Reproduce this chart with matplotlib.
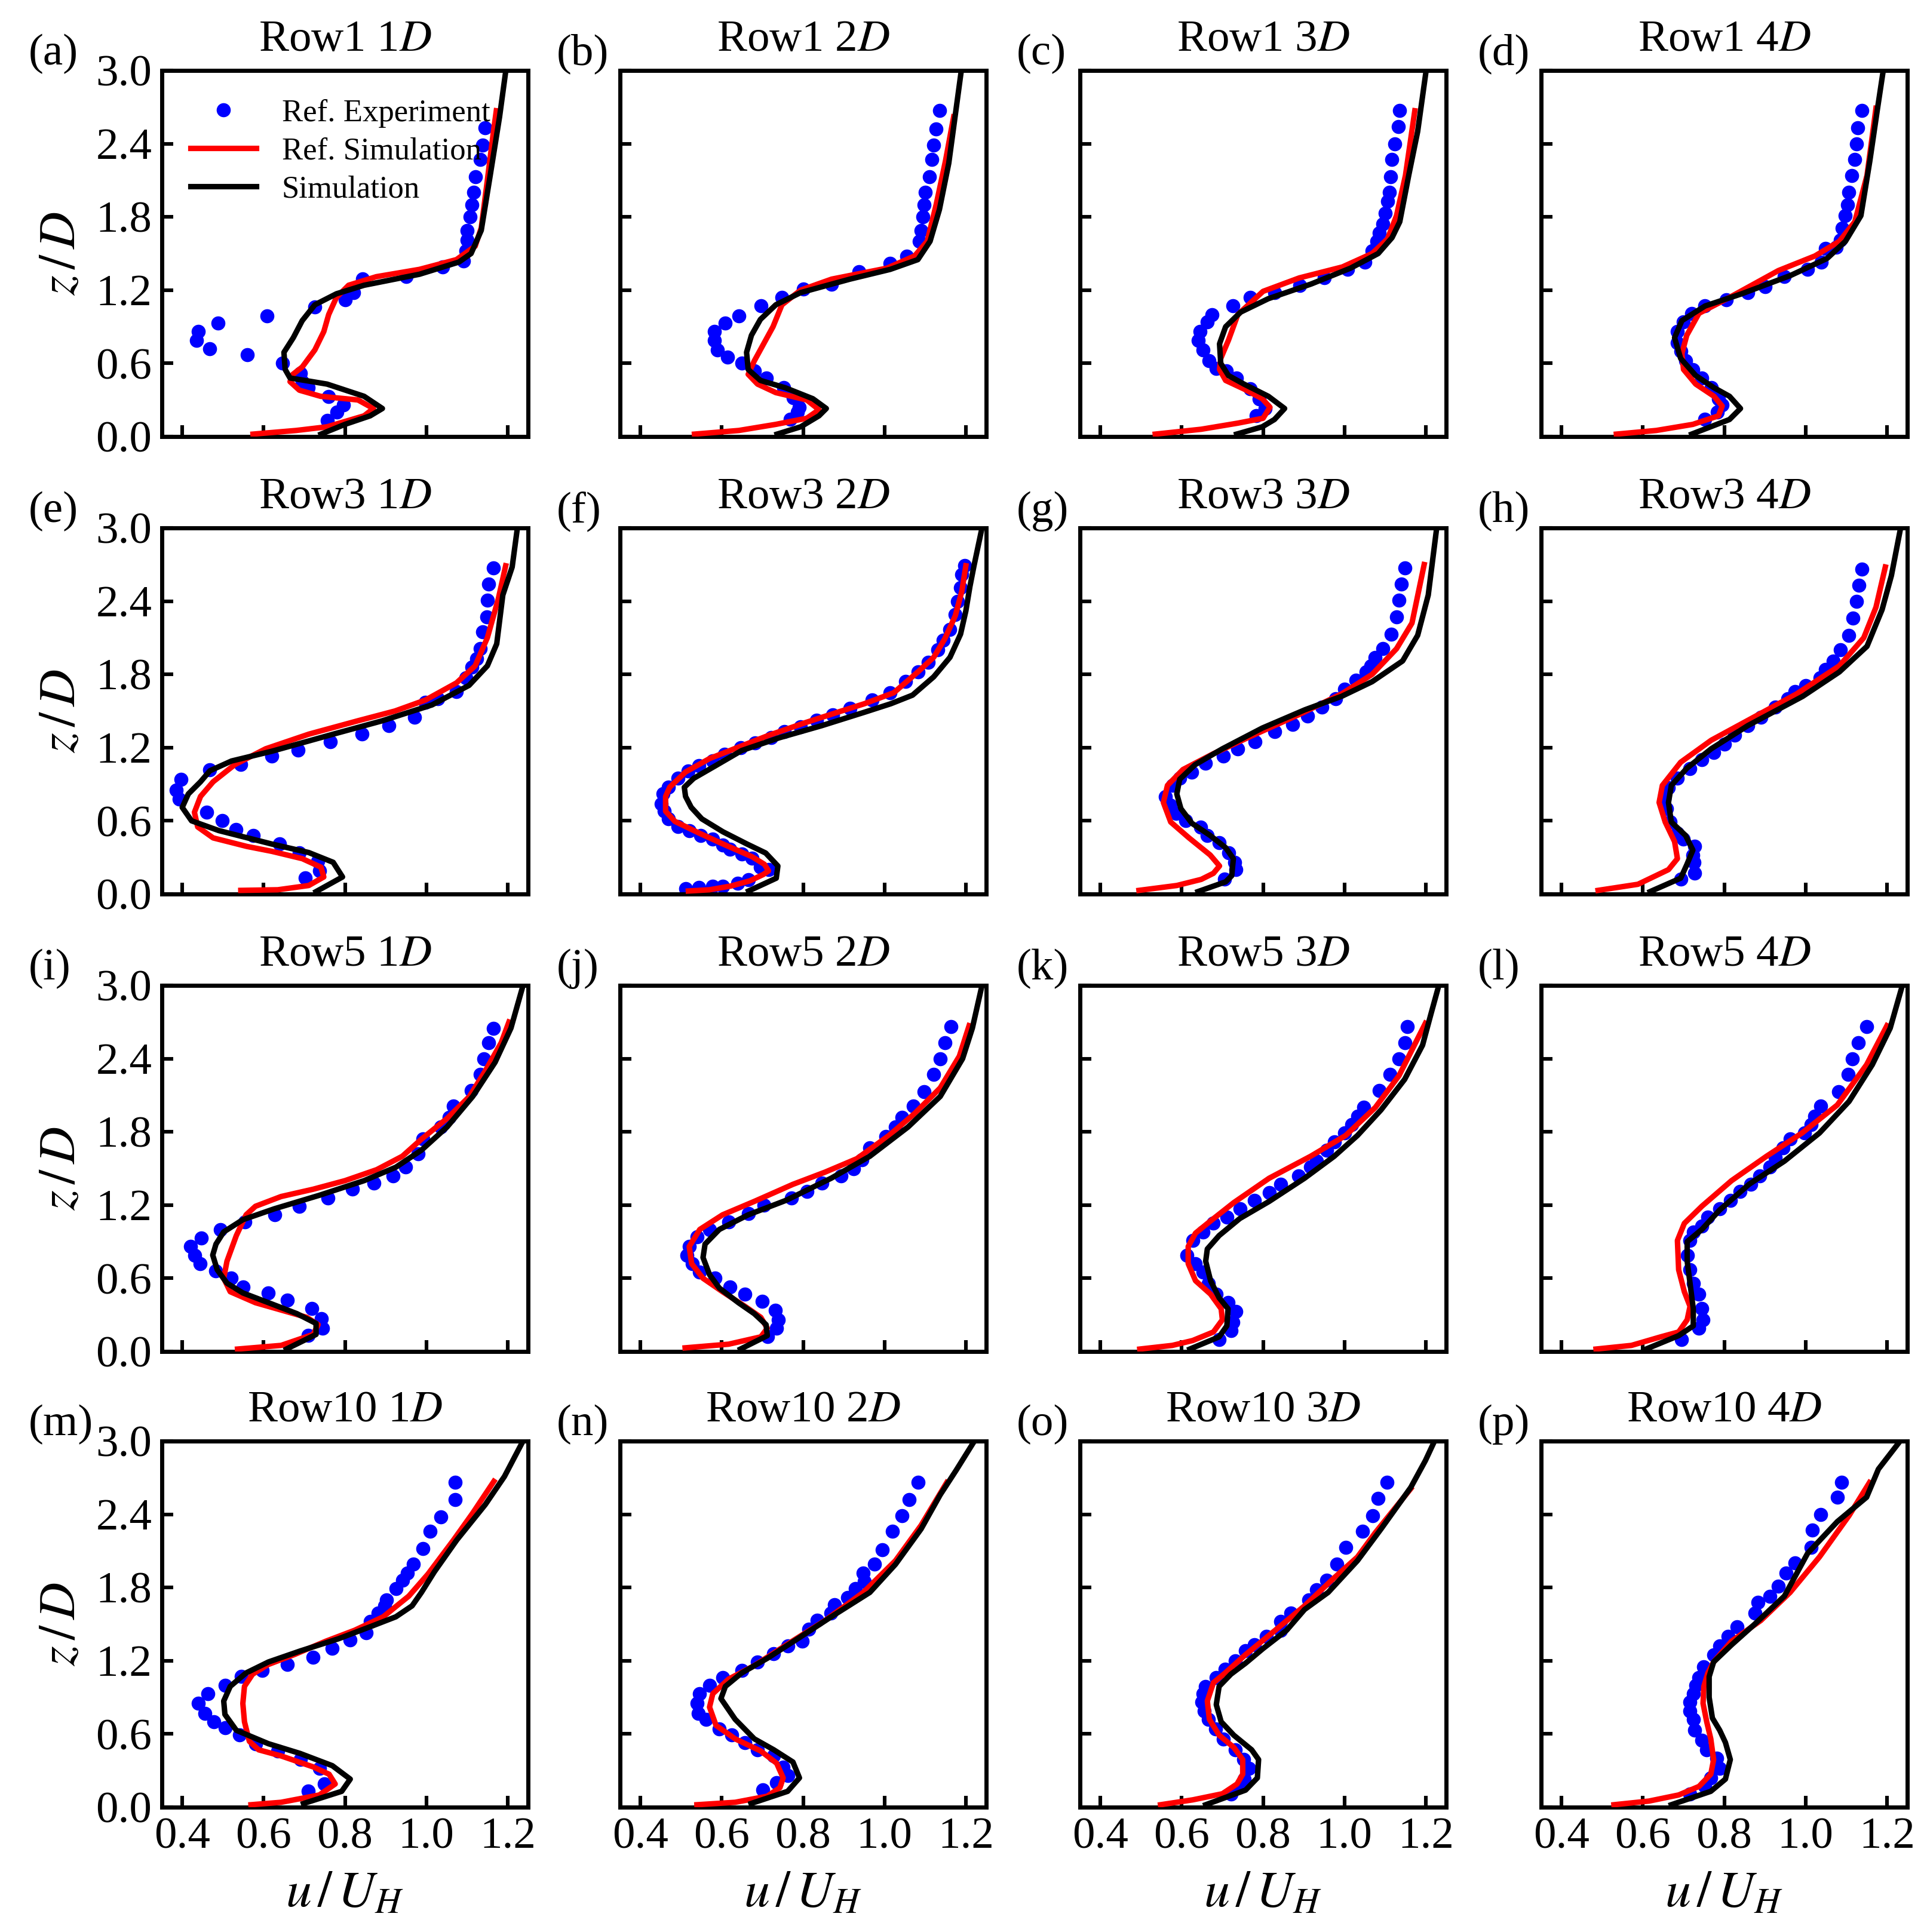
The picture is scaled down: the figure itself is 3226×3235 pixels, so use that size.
import numpy as np
import matplotlib
matplotlib.use("Agg")
import matplotlib.pyplot as plt

plt.rcParams['font.family'] = ['Liberation Serif', 'DejaVu Serif']
plt.rcParams['mathtext.fontset'] = 'stix'

rows = ['Row1', 'Row3', 'Row5', 'Row10']
dists = ['1', '2', '3', '4']
panel_letters = list('abcdefghijklmnop')
x_ticks = [0.4, 0.6, 0.8, 1.0, 1.2]
y_ticks = [0.0, 0.6, 1.2, 1.8, 2.4, 3.0]
legend_labels = ['Ref. Experiment', 'Ref. Simulation', 'Simulation']

# ---------------- data: (u/U_H, z/D) pairs ----------------
a_exp = [(0.756,0.13),(0.78,0.20),(0.797,0.26),(0.76,0.33),(0.71,0.40),(0.695,0.45),(0.69,0.52),(0.647,0.60),(0.56,0.67),(0.468,0.72),(0.435,0.79),(0.44,0.86),(0.488,0.93),(0.608,0.99),(0.726,1.06),(0.80,1.12),(0.821,1.18),(0.844,1.29),(0.95,1.31),(1.04,1.39),(1.092,1.44),(1.097,1.52),(1.10,1.61),(1.10,1.69),(1.108,1.80),(1.112,1.90),(1.117,2.0),(1.121,2.13),(1.132,2.27),(1.138,2.39),(1.145,2.53)]
a_ref = [(0.574,0.02),(0.68,0.05),(0.756,0.08),(0.847,0.17),(0.87,0.23),(0.832,0.30),(0.74,0.33),(0.688,0.38),(0.665,0.45),(0.672,0.51),(0.695,0.57),(0.726,0.71),(0.748,0.86),(0.76,1.0),(0.779,1.14),(0.809,1.24),(0.877,1.31),(0.983,1.37),(1.074,1.45),(1.12,1.56),(1.135,1.71),(1.15,2.10),(1.165,2.5),(1.172,2.67)]
a_sim = [(0.741,0.02),(0.80,0.10),(0.862,0.17),(0.892,0.23),(0.847,0.33),(0.756,0.43),(0.665,0.48),(0.653,0.55),(0.65,0.69),(0.673,0.81),(0.695,0.95),(0.726,1.08),(0.779,1.17),(0.847,1.24),(0.983,1.33),(1.08,1.43),(1.11,1.50),(1.135,1.69),(1.157,2.14),(1.18,2.62),(1.195,2.99)]

b_exp = [(0.768,0.14),(0.786,0.20),(0.791,0.24),(0.776,0.32),(0.752,0.40),(0.71,0.48),(0.68,0.54),(0.65,0.60),(0.615,0.65),(0.589,0.71),(0.582,0.79),(0.582,0.86),(0.609,0.93),(0.642,0.99),(0.697,1.07),(0.748,1.14),(0.80,1.21),(0.87,1.25),(0.938,1.35),(1.014,1.42),(1.055,1.48),(1.085,1.60),(1.09,1.69),(1.094,1.80),(1.097,1.90),(1.10,2.0),(1.11,2.13),(1.117,2.27),(1.121,2.39),(1.126,2.52),(1.135,2.67)]
b_ref = [(0.533,0.02),(0.642,0.05),(0.733,0.10),(0.809,0.15),(0.839,0.22),(0.809,0.30),(0.733,0.36),(0.688,0.43),(0.665,0.51),(0.68,0.62),(0.703,0.76),(0.726,0.90),(0.748,1.08),(0.794,1.20),(0.87,1.29),(1.006,1.38),(1.074,1.48),(1.105,1.60),(1.127,1.90),(1.15,2.26),(1.17,2.62)]
b_sim = [(0.736,0.02),(0.794,0.08),(0.839,0.17),(0.857,0.23),(0.824,0.31),(0.756,0.40),(0.695,0.46),(0.665,0.55),(0.661,0.69),(0.673,0.83),(0.695,0.96),(0.733,1.08),(0.794,1.18),(0.915,1.29),(1.014,1.37),(1.082,1.45),(1.112,1.60),(1.135,1.86),(1.158,2.24),(1.188,2.98)]

c_exp = [(0.783,0.17),(0.805,0.23),(0.79,0.31),(0.768,0.39),(0.735,0.48),(0.71,0.54),(0.685,0.56),(0.667,0.62),(0.652,0.71),(0.641,0.79),(0.645,0.86),(0.663,0.94),(0.675,1.0),(0.726,1.07),(0.768,1.14),(0.828,1.18),(0.891,1.24),(0.951,1.30),(1.008,1.37),(1.05,1.43),(1.068,1.52),(1.08,1.60),(1.086,1.67),(1.095,1.74),(1.10,1.83),(1.106,1.93),(1.11,2.0),(1.113,2.13),(1.116,2.27),(1.124,2.40),(1.133,2.54),(1.136,2.67)]
c_ref = [(0.535,0.02),(0.648,0.06),(0.738,0.11),(0.80,0.15),(0.817,0.24),(0.798,0.31),(0.753,0.39),(0.708,0.46),(0.693,0.55),(0.696,0.64),(0.715,0.79),(0.738,1.0),(0.80,1.19),(0.889,1.30),(0.995,1.39),(1.068,1.50),(1.106,1.62),(1.128,1.81),(1.15,2.14),(1.173,2.67)]
c_sim = [(0.735,0.02),(0.798,0.08),(0.828,0.14),(0.853,0.23),(0.813,0.33),(0.753,0.43),(0.715,0.50),(0.696,0.60),(0.693,0.76),(0.708,0.90),(0.745,1.02),(0.813,1.13),(0.918,1.25),(1.015,1.38),(1.083,1.50),(1.117,1.63),(1.136,1.76),(1.158,2.14),(1.18,2.50),(1.20,2.98)]

d_exp = [(0.753,0.14),(0.783,0.20),(0.795,0.26),(0.786,0.31),(0.768,0.40),(0.745,0.48),(0.723,0.55),(0.705,0.62),(0.693,0.70),(0.685,0.77),(0.685,0.86),(0.70,0.94),(0.72,1.01),(0.753,1.07),(0.805,1.12),(0.858,1.18),(0.90,1.23),(0.948,1.31),(1.005,1.37),(1.038,1.43),(1.049,1.54),(1.076,1.55),(1.086,1.61),(1.09,1.71),(1.098,1.81),(1.103,1.90),(1.106,2.0),(1.113,2.14),(1.121,2.27),(1.125,2.40),(1.128,2.53),(1.139,2.67)]
d_ref = [(0.535,0.02),(0.633,0.05),(0.723,0.10),(0.786,0.17),(0.795,0.25),(0.775,0.33),(0.73,0.43),(0.70,0.55),(0.696,0.68),(0.708,0.83),(0.738,1.01),(0.813,1.14),(0.933,1.36),(1.023,1.48),(1.083,1.60),(1.121,1.76),(1.151,2.14),(1.173,2.69)]
d_sim = [(0.72,0.02),(0.813,0.14),(0.84,0.23),(0.813,0.33),(0.775,0.40),(0.73,0.50),(0.693,0.64),(0.678,0.81),(0.696,0.95),(0.753,1.07),(0.843,1.17),(0.963,1.32),(1.053,1.46),(1.098,1.60),(1.136,1.81),(1.158,2.26),(1.176,2.67),(1.19,2.98)]

e_exp = [(0.703,0.13),(0.738,0.19),(0.733,0.27),(0.688,0.34),(0.639,0.41),(0.574,0.48),(0.532,0.53),(0.498,0.60),(0.46,0.67),(0.392,0.78),(0.385,0.85),(0.397,0.94),(0.468,1.02),(0.544,1.06),(0.62,1.13),(0.685,1.18),(0.764,1.25),(0.842,1.31),(0.908,1.38),(0.971,1.45),(0.998,1.57),(1.029,1.60),(1.074,1.66),(1.097,1.77),(1.112,1.86),(1.124,1.93),(1.132,2.01),(1.139,2.15),(1.148,2.27),(1.15,2.41),(1.153,2.54),(1.165,2.67)]
e_ref = [(0.544,0.03),(0.635,0.035),(0.711,0.07),(0.748,0.14),(0.741,0.22),(0.695,0.29),(0.62,0.35),(0.559,0.39),(0.476,0.46),(0.438,0.55),(0.43,0.67),(0.445,0.80),(0.476,0.92),(0.529,1.06),(0.605,1.19),(0.711,1.31),(0.832,1.42),(0.923,1.50),(0.998,1.59),(1.074,1.73),(1.12,1.87),(1.15,2.10),(1.177,2.42),(1.195,2.69)]
e_sim = [(0.729,0.02),(0.794,0.14),(0.771,0.26),(0.711,0.34),(0.62,0.41),(0.49,0.52),(0.423,0.60),(0.40,0.71),(0.415,0.82),(0.445,0.92),(0.468,1.01),(0.521,1.09),(0.62,1.17),(0.771,1.31),(0.892,1.42),(1.014,1.55),(1.105,1.71),(1.15,1.87),(1.173,2.05),(1.188,2.45),(1.211,2.68),(1.223,2.98)]

f_exp = [(0.511,0.046),(0.544,0.056),(0.577,0.066),(0.603,0.066),(0.639,0.087),(0.666,0.118),(0.715,0.20),(0.695,0.222),(0.675,0.295),(0.649,0.326),(0.62,0.367),(0.603,0.40),(0.577,0.45),(0.548,0.48),(0.521,0.52),(0.492,0.554),(0.469,0.616),(0.459,0.678),(0.452,0.74),(0.456,0.82),(0.469,0.875),(0.492,0.948),(0.518,1.01),(0.544,1.05),(0.577,1.09),(0.607,1.145),(0.646,1.197),(0.682,1.24),(0.721,1.28),(0.754,1.33),(0.793,1.37),(0.833,1.425),(0.872,1.467),(0.915,1.52),(0.97,1.59),(1.013,1.65),(1.052,1.74),(1.082,1.82),(1.108,1.90),(1.131,2.0),(1.144,2.08),(1.16,2.17),(1.174,2.29),(1.18,2.40),(1.187,2.51),(1.19,2.62),(1.197,2.69)]
f_ref = [(0.518,0.025),(0.57,0.035),(0.623,0.066),(0.669,0.108),(0.702,0.16),(0.715,0.19),(0.705,0.243),(0.675,0.305),(0.603,0.41),(0.544,0.50),(0.485,0.595),(0.462,0.678),(0.462,0.80),(0.472,0.875),(0.511,1.0),(0.57,1.11),(0.636,1.197),(0.715,1.30),(0.806,1.405),(0.885,1.49),(0.951,1.56),(1.023,1.65),(1.082,1.82),(1.121,1.94),(1.148,2.09),(1.174,2.28),(1.19,2.48),(1.20,2.69)]
f_sim = [(0.666,0.025),(0.734,0.13),(0.738,0.23),(0.708,0.336),(0.662,0.41),(0.603,0.51),(0.551,0.616),(0.525,0.71),(0.511,0.80),(0.508,0.875),(0.531,0.948),(0.584,1.05),(0.649,1.176),(0.741,1.28),(0.846,1.38),(0.951,1.49),(1.016,1.56),(1.069,1.63),(1.121,1.78),(1.161,1.94),(1.187,2.13),(1.20,2.32),(1.21,2.52),(1.22,2.69),(1.239,2.99)]

g_exp = [(0.705,0.12),(0.733,0.20),(0.73,0.26),(0.715,0.34),(0.692,0.42),(0.662,0.48),(0.647,0.55),(0.61,0.60),(0.587,0.66),(0.572,0.73),(0.56,0.80),(0.577,0.89),(0.595,0.95),(0.625,1.0),(0.658,1.07),(0.703,1.13),(0.738,1.19),(0.78,1.25),(0.828,1.33),(0.873,1.39),(0.91,1.46),(0.945,1.53),(0.978,1.60),(1.001,1.68),(1.028,1.75),(1.053,1.82),(1.065,1.87),(1.076,1.94),(1.094,2.01),(1.115,2.13),(1.128,2.27),(1.134,2.41),(1.14,2.54),(1.148,2.67)]
g_ref = [(0.495,0.03),(0.588,0.07),(0.648,0.12),(0.678,0.17),(0.693,0.23),(0.67,0.32),(0.618,0.46),(0.573,0.59),(0.555,0.75),(0.565,0.89),(0.603,1.02),(0.678,1.15),(0.768,1.29),(0.888,1.47),(0.993,1.64),(1.068,1.80),(1.128,2.01),(1.166,2.22),(1.196,2.70)]
g_sim = [(0.64,0.02),(0.708,0.10),(0.723,0.15),(0.727,0.29),(0.708,0.38),(0.67,0.48),(0.625,0.58),(0.598,0.70),(0.588,0.82),(0.595,0.94),(0.633,1.06),(0.70,1.19),(0.798,1.36),(0.903,1.51),(0.993,1.62),(1.068,1.74),(1.143,1.91),(1.18,2.12),(1.206,2.45),(1.226,2.98)]

h_exp = [(0.693,0.12),(0.727,0.17),(0.726,0.26),(0.723,0.32),(0.727,0.39),(0.70,0.45),(0.685,0.50),(0.667,0.59),(0.658,0.70),(0.652,0.78),(0.663,0.87),(0.685,0.95),(0.715,1.03),(0.745,1.10),(0.775,1.16),(0.801,1.23),(0.825,1.30),(0.858,1.38),(0.891,1.45),(0.926,1.53),(0.956,1.60),(0.974,1.66),(1.0,1.71),(1.035,1.77),(1.049,1.84),(1.068,1.91),(1.086,2.0),(1.106,2.12),(1.116,2.26),(1.125,2.40),(1.131,2.53),(1.139,2.66)]
h_ref = [(0.49,0.03),(0.588,0.08),(0.663,0.20),(0.685,0.29),(0.678,0.43),(0.655,0.59),(0.64,0.75),(0.648,0.89),(0.693,1.08),(0.768,1.26),(0.873,1.45),(0.978,1.64),(1.083,1.87),(1.143,2.10),(1.173,2.35),(1.196,2.68)]
h_sim = [(0.618,0.02),(0.693,0.13),(0.708,0.24),(0.723,0.36),(0.705,0.48),(0.67,0.59),(0.663,0.75),(0.67,0.89),(0.708,1.03),(0.768,1.19),(0.858,1.38),(0.993,1.62),(1.083,1.82),(1.151,2.03),(1.188,2.33),(1.211,2.61),(1.233,2.99)]

i_exp = [(0.709,0.13),(0.745,0.19),(0.742,0.27),(0.718,0.35),(0.659,0.42),(0.612,0.48),(0.549,0.53),(0.521,0.60),(0.482,0.66),(0.444,0.72),(0.431,0.79),(0.42,0.86),(0.447,0.93),(0.494,1.0),(0.554,1.06),(0.627,1.12),(0.687,1.19),(0.758,1.26),(0.819,1.33),(0.871,1.38),(0.918,1.44),(0.949,1.51),(0.98,1.62),(0.991,1.74),(1.035,1.84),(1.056,1.92),(1.067,2.01),(1.111,2.14),(1.133,2.27),(1.142,2.40),(1.153,2.53),(1.165,2.65)]
i_ref = [(0.536,0.02),(0.643,0.05),(0.722,0.14),(0.734,0.22),(0.706,0.28),(0.643,0.34),(0.58,0.40),(0.518,0.49),(0.502,0.60),(0.51,0.74),(0.533,0.95),(0.557,1.12),(0.58,1.19),(0.643,1.27),(0.722,1.33),(0.80,1.40),(0.878,1.49),(0.941,1.60),(0.988,1.74),(1.051,1.91),(1.106,2.09),(1.145,2.30),(1.184,2.53),(1.203,2.70)]
i_sim = [(0.656,0.02),(0.729,0.14),(0.729,0.23),(0.682,0.31),(0.612,0.40),(0.549,0.48),(0.51,0.56),(0.486,0.67),(0.475,0.79),(0.483,0.88),(0.502,0.98),(0.549,1.08),(0.627,1.17),(0.737,1.28),(0.847,1.40),(0.925,1.51),(0.988,1.65),(1.051,1.84),(1.114,2.09),(1.169,2.37),(1.208,2.65),(1.236,2.98)]

j_exp = [(0.712,0.12),(0.735,0.19),(0.739,0.26),(0.732,0.34),(0.699,0.41),(0.657,0.47),(0.62,0.53),(0.583,0.60),(0.546,0.65),(0.528,0.72),(0.515,0.79),(0.52,0.86),(0.539,0.94),(0.57,1.0),(0.617,1.06),(0.665,1.13),(0.704,1.20),(0.772,1.26),(0.809,1.31),(0.846,1.38),(0.893,1.44),(0.924,1.50),(0.945,1.57),(0.964,1.67),(1.003,1.76),(1.027,1.84),(1.043,1.92),(1.071,2.01),(1.098,2.13),(1.121,2.27),(1.137,2.40),(1.148,2.53),(1.164,2.66)]
j_ref = [(0.51,0.03),(0.617,0.06),(0.696,0.12),(0.712,0.19),(0.696,0.28),(0.657,0.37),(0.602,0.49),(0.554,0.60),(0.526,0.72),(0.52,0.86),(0.546,1.0),(0.602,1.12),(0.68,1.23),(0.775,1.37),(0.854,1.47),(0.932,1.58),(1.011,1.77),(1.074,1.95),(1.137,2.16),(1.184,2.42),(1.208,2.67)]
j_sim = [(0.646,0.02),(0.712,0.13),(0.709,0.22),(0.68,0.31),(0.641,0.40),(0.594,0.52),(0.57,0.63),(0.554,0.77),(0.559,0.88),(0.594,1.0),(0.665,1.12),(0.759,1.24),(0.869,1.42),(0.964,1.60),(1.058,1.84),(1.137,2.09),(1.192,2.40),(1.216,2.65),(1.239,2.99)]

k_exp = [(0.692,0.10),(0.721,0.17),(0.726,0.24),(0.733,0.33),(0.714,0.40),(0.685,0.47),(0.665,0.56),(0.653,0.65),(0.634,0.72),(0.613,0.79),(0.627,0.91),(0.653,0.98),(0.678,1.05),(0.711,1.10),(0.743,1.17),(0.779,1.24),(0.815,1.30),(0.844,1.37),(0.888,1.44),(0.917,1.51),(0.931,1.56),(0.957,1.65),(0.975,1.72),(1.001,1.79),(1.018,1.86),(1.032,1.93),(1.047,2.0),(1.086,2.14),(1.112,2.27),(1.134,2.40),(1.148,2.53),(1.155,2.66)]
k_ref = [(0.497,0.02),(0.577,0.05),(0.627,0.09),(0.678,0.16),(0.70,0.26),(0.697,0.35),(0.671,0.47),(0.634,0.58),(0.616,0.72),(0.616,0.86),(0.634,0.97),(0.671,1.07),(0.728,1.22),(0.815,1.42),(0.917,1.60),(1.003,1.77),(1.076,2.0),(1.134,2.26),(1.199,2.69)]
k_sim = [(0.62,0.02),(0.692,0.12),(0.711,0.21),(0.714,0.35),(0.692,0.44),(0.671,0.58),(0.659,0.74),(0.663,0.84),(0.692,0.95),(0.743,1.09),(0.815,1.23),(0.902,1.42),(0.975,1.60),(1.032,1.77),(1.09,1.98),(1.148,2.23),(1.192,2.51),(1.213,2.77),(1.232,3.0)]

l_exp = [(0.695,0.10),(0.738,0.19),(0.748,0.26),(0.745,0.35),(0.738,0.47),(0.724,0.56),(0.716,0.67),(0.709,0.79),(0.716,0.91),(0.724,0.98),(0.745,1.03),(0.76,1.10),(0.789,1.17),(0.815,1.24),(0.839,1.31),(0.865,1.37),(0.887,1.44),(0.912,1.51),(0.926,1.59),(0.945,1.67),(0.962,1.74),(0.998,1.79),(1.013,1.86),(1.023,1.93),(1.037,2.01),(1.081,2.13),(1.104,2.27),(1.115,2.40),(1.13,2.53),(1.15,2.66)]
l_ref = [(0.485,0.02),(0.572,0.05),(0.644,0.12),(0.688,0.16),(0.709,0.26),(0.716,0.37),(0.702,0.49),(0.688,0.67),(0.685,0.91),(0.702,1.05),(0.745,1.19),(0.818,1.40),(0.904,1.60),(0.991,1.79),(1.078,2.02),(1.15,2.35),(1.20,2.67)]
l_sim = [(0.608,0.02),(0.688,0.13),(0.724,0.21),(0.724,0.35),(0.716,0.56),(0.709,0.74),(0.709,0.90),(0.745,1.0),(0.789,1.16),(0.861,1.37),(0.948,1.56),(1.034,1.79),(1.107,2.05),(1.164,2.35),(1.208,2.65),(1.237,2.99)]

m_exp = [(0.709,0.13),(0.75,0.19),(0.737,0.32),(0.69,0.39),(0.635,0.46),(0.58,0.52),(0.541,0.59),(0.505,0.65),(0.478,0.70),(0.455,0.77),(0.439,0.85),(0.463,0.93),(0.505,1.0),(0.546,1.07),(0.596,1.12),(0.659,1.17),(0.722,1.23),(0.769,1.30),(0.813,1.37),(0.852,1.43),(0.863,1.52),(0.882,1.59),(0.898,1.65),(0.902,1.70),(0.925,1.79),(0.941,1.86),(0.954,1.92),(0.968,1.99),(0.991,2.12),(1.009,2.26),(1.035,2.38),(1.071,2.52),(1.071,2.66)]
m_ref = [(0.569,0.02),(0.643,0.04),(0.69,0.07),(0.737,0.10),(0.776,0.19),(0.761,0.27),(0.722,0.33),(0.643,0.42),(0.588,0.47),(0.565,0.54),(0.553,0.70),(0.549,0.85),(0.553,0.99),(0.573,1.09),(0.612,1.17),(0.675,1.25),(0.753,1.36),(0.824,1.45),(0.894,1.56),(0.957,1.73),(1.004,1.91),(1.067,2.19),(1.114,2.41),(1.166,2.67)]
m_sim = [(0.698,0.03),(0.792,0.13),(0.813,0.23),(0.769,0.34),(0.69,0.44),(0.612,0.52),(0.533,0.63),(0.505,0.76),(0.502,0.87),(0.518,0.99),(0.557,1.10),(0.612,1.19),(0.69,1.28),(0.784,1.38),(0.863,1.48),(0.925,1.56),(0.965,1.65),(0.988,1.76),(1.02,1.93),(1.075,2.19),(1.145,2.48),(1.192,2.71),(1.236,2.99)]

n_exp = [(0.701,0.14),(0.735,0.20),(0.762,0.26),(0.751,0.33),(0.728,0.42),(0.688,0.47),(0.657,0.53),(0.625,0.59),(0.594,0.64),(0.562,0.72),(0.542,0.77),(0.539,0.85),(0.546,0.93),(0.57,1.0),(0.602,1.06),(0.649,1.12),(0.688,1.19),(0.728,1.26),(0.762,1.32),(0.798,1.36),(0.814,1.46),(0.835,1.53),(0.869,1.59),(0.877,1.66),(0.909,1.72),(0.929,1.79),(0.951,1.85),(0.948,1.92),(0.975,1.99),(0.995,2.11),(1.019,2.26),(1.043,2.39),(1.061,2.52),(1.082,2.66)]
n_ref = [(0.539,0.02),(0.633,0.04),(0.712,0.09),(0.743,0.16),(0.751,0.24),(0.735,0.36),(0.696,0.46),(0.633,0.56),(0.586,0.67),(0.57,0.82),(0.578,0.93),(0.617,1.05),(0.68,1.16),(0.759,1.33),(0.854,1.53),(0.948,1.76),(1.027,2.02),(1.09,2.31),(1.153,2.66)]
n_sim = [(0.672,0.03),(0.762,0.13),(0.791,0.24),(0.775,0.37),(0.728,0.47),(0.68,0.56),(0.633,0.72),(0.598,0.89),(0.609,0.99),(0.649,1.10),(0.712,1.22),(0.791,1.39),(0.869,1.56),(0.964,1.76),(1.027,1.99),(1.09,2.28),(1.137,2.56),(1.176,2.76),(1.219,2.99)]

o_exp = [(0.721,0.11),(0.745,0.17),(0.754,0.23),(0.765,0.32),(0.753,0.39),(0.732,0.47),(0.703,0.56),(0.683,0.64),(0.665,0.72),(0.655,0.79),(0.649,0.86),(0.652,0.93),(0.659,0.99),(0.685,1.06),(0.707,1.13),(0.731,1.20),(0.757,1.28),(0.779,1.33),(0.808,1.40),(0.844,1.45),(0.844,1.52),(0.869,1.59),(0.912,1.70),(0.931,1.78),(0.957,1.86),(0.982,1.99),(1.003,2.13),(1.044,2.26),(1.07,2.39),(1.083,2.53),(1.105,2.66)]
o_ref = [(0.548,0.02),(0.627,0.06),(0.70,0.11),(0.736,0.19),(0.75,0.27),(0.75,0.39),(0.728,0.49),(0.692,0.59),(0.668,0.72),(0.663,0.87),(0.678,1.02),(0.707,1.10),(0.757,1.25),(0.83,1.45),(0.902,1.65),(0.975,1.88),(1.032,2.05),(1.076,2.25),(1.163,2.61)]
o_sim = [(0.659,0.02),(0.757,0.14),(0.786,0.24),(0.789,0.39),(0.772,0.47),(0.728,0.59),(0.697,0.70),(0.685,0.84),(0.692,0.99),(0.721,1.09),(0.757,1.18),(0.80,1.30),(0.858,1.45),(0.902,1.62),(0.96,1.76),(1.032,2.02),(1.09,2.28),(1.163,2.62),(1.199,2.84),(1.22,2.99)]

p_exp = [(0.716,0.11),(0.753,0.17),(0.767,0.24),(0.789,0.32),(0.782,0.40),(0.757,0.47),(0.745,0.55),(0.727,0.63),(0.724,0.72),(0.716,0.79),(0.716,0.86),(0.724,0.93),(0.73,1.0),(0.738,1.06),(0.75,1.15),(0.775,1.25),(0.789,1.32),(0.81,1.40),(0.832,1.48),(0.875,1.59),(0.883,1.68),(0.912,1.73),(0.933,1.81),(0.952,1.92),(0.974,2.0),(1.013,2.13),(1.017,2.27),(1.037,2.40),(1.078,2.54),(1.088,2.66)]
p_ref = [(0.529,0.02),(0.615,0.05),(0.688,0.10),(0.738,0.17),(0.767,0.27),(0.774,0.39),(0.767,0.56),(0.757,0.70),(0.748,0.85),(0.75,0.99),(0.76,1.10),(0.774,1.19),(0.818,1.36),(0.89,1.53),(0.962,1.76),(1.034,2.05),(1.107,2.39),(1.157,2.66)]
p_sim = [(0.67,0.02),(0.767,0.13),(0.803,0.23),(0.815,0.39),(0.803,0.53),(0.789,0.63),(0.771,0.73),(0.763,0.90),(0.763,1.07),(0.774,1.19),(0.818,1.33),(0.875,1.50),(0.948,1.73),(1.005,2.08),(1.078,2.34),(1.15,2.54),(1.179,2.77),(1.23,2.99)]

exp_sets = [a_exp, b_exp, c_exp, d_exp, e_exp, f_exp, g_exp, h_exp,
            i_exp, j_exp, k_exp, l_exp, m_exp, n_exp, o_exp, p_exp]
ref_sets = [a_ref, b_ref, c_ref, d_ref, e_ref, f_ref, g_ref, h_ref,
            i_ref, j_ref, k_ref, l_ref, m_ref, n_ref, o_ref, p_ref]
sim_sets = [a_sim, b_sim, c_sim, d_sim, e_sim, f_sim, g_sim, h_sim,
            i_sim, j_sim, k_sim, l_sim, m_sim, n_sim, o_sim, p_sim]

# ---------------- figure ----------------
W, H = 3226, 3235
dpi = 200
fig = plt.figure(figsize=(W / dpi, H / dpi), dpi=dpi)

col_left = [271, 1038, 1808, 2580]
row_top = [118, 884, 1650, 2413]
ax_w, ax_h = 613, 613
FS = 27
LFS = 31

for r in range(4):
    for c in range(4):
        idx = r * 4 + c
        x0 = col_left[c] / W
        y0 = 1 - (row_top[r] + ax_h) / H
        ax = fig.add_axes([x0, y0, ax_w / W, ax_h / H])
        eu, ez = np.array(exp_sets[idx]).T
        ru, rz = np.array(ref_sets[idx]).T
        su, sz = np.array(sim_sets[idx]).T
        ax.plot(eu, ez, 'o', color='#0000ff', ms=8.5, mec='none',
                label=legend_labels[0], zorder=2)
        ax.plot(ru, rz, '-', color='#ff0000', lw=3.3,
                label=legend_labels[1], zorder=3)
        ax.plot(su, sz, '-', color='black', lw=3.3,
                label=legend_labels[2], zorder=4)
        ax.set_xlim(0.35, 1.25)
        ax.set_ylim(0.0, 3.0)
        ax.set_xticks(x_ticks)
        ax.set_yticks(y_ticks)
        ax.tick_params(direction='in', length=7, width=2.2, labelsize=FS,
                       top=False, right=False, pad=6)
        for sp in ax.spines.values():
            sp.set_linewidth(2.5)
        if c == 0:
            ax.set_yticklabels(['%.1f' % v for v in y_ticks])
            ax.set_ylabel(r'$z\,/\,D$', fontsize=LFS, labelpad=6)
        else:
            ax.set_yticklabels([])
        if r == 3:
            ax.set_xticklabels(['%.1f' % v for v in x_ticks])
            ax.set_xlabel(r'$u\,/\,U_H$', fontsize=LFS, labelpad=8)
        else:
            ax.set_xticklabels([])
        ax.set_title('%s %s$D$' % (rows[r], dists[c]), fontsize=FS, pad=12)
        lx = -0.365 if c == 0 else -0.173
        ax.text(lx, 1.045, '(%s)' % panel_letters[idx], transform=ax.transAxes,
                fontsize=FS, ha='left', va='center')
        if idx == 0:
            ax.legend(loc='upper left', frameon=False, fontsize=19,
                      handlelength=2.1, numpoints=1, labelspacing=0.3,
                      handletextpad=0.8)

fig.savefig('out.png', dpi=dpi)
